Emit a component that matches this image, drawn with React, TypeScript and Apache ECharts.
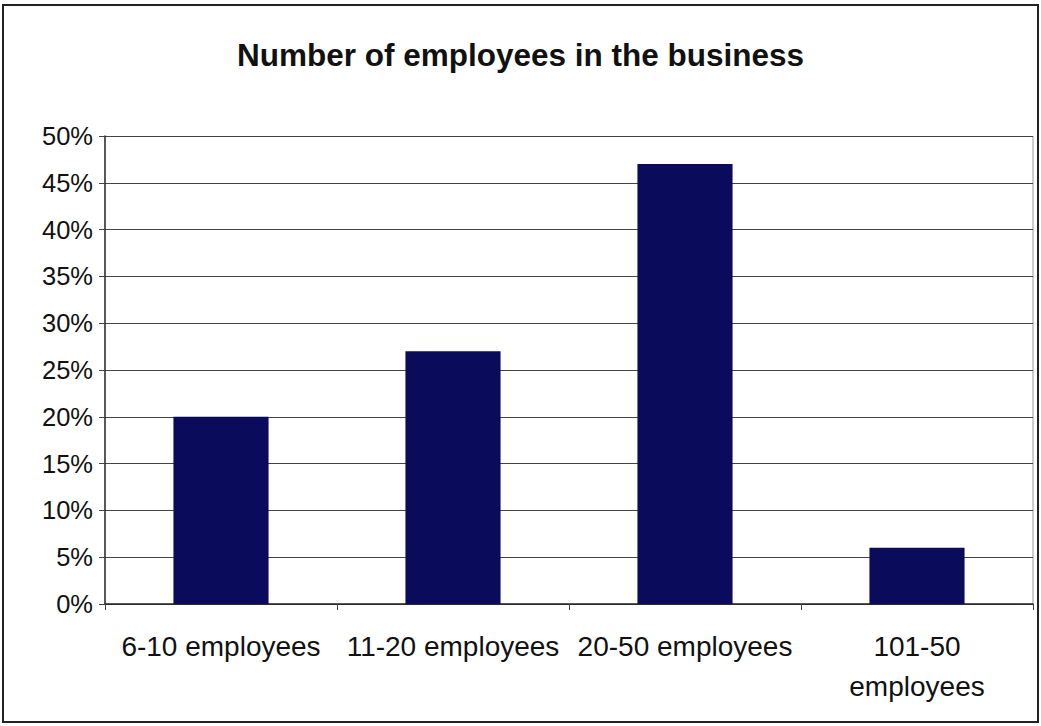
import React, { useEffect, useRef } from "react";
import * as echarts from "echarts";

const categories = ["6-10 employees", "11-20 employees", "20-50 employees", "101-50\nemployees"];
const values = [20, 27, 47, 6];
const yTicks = [0, 5, 10, 15, 20, 25, 30, 35, 40, 45, 50];
const title = "Number of employees in the business";

export default function App() {
  const ref = useRef<HTMLDivElement>(null);
  useEffect(() => {
    document.body.style.margin = "0";
    const chart = echarts.init(ref.current!, null, { renderer: "svg" });
    chart.setOption({
      animation: false,
      backgroundColor: "#ffffff",
      title: {
        text: title,
        left: "center",
        top: 34,
        textStyle: { fontFamily: "Liberation Sans", fontWeight: "bold", fontSize: 31.5, color: "#111" },
      },
      graphic: [
        {
          type: "rect",
          shape: { x: 3, y: 5, width: 1035, height: 717 },
          style: { fill: "none", stroke: "#222", lineWidth: 2 },
        },
        {
          type: "line",
          shape: { x1: 1033, y1: 136, x2: 1033, y2: 604 },
          style: { stroke: "#999", lineWidth: 1 },
        },
      ],
      grid: { left: 105, right: 8, top: 136, bottom: 122, containLabel: false },
      xAxis: {
        type: "category",
        data: categories,
        axisLine: { lineStyle: { color: "#222", width: 1.5 } },
        axisTick: { show: true, alignWithLabel: false, length: 6, lineStyle: { color: "#444" } },
        axisLabel: {
          interval: 0,
          margin: 22,
          fontFamily: "Liberation Sans",
          fontSize: 28,
          color: "#111",
          lineHeight: 40,
        },
      },
      yAxis: {
        type: "value",
        min: yTicks[0],
        max: yTicks[yTicks.length - 1],
        interval: 5,
        axisLine: { show: true, lineStyle: { color: "#222", width: 1.5 } },
        axisTick: { show: true, length: 6, lineStyle: { color: "#444" } },
        axisLabel: {
          formatter: (v: number) => `${v}%`,
          fontFamily: "Liberation Sans",
          fontSize: 25.5,
          color: "#111",
          margin: 12,
        },
        splitLine: { show: true, lineStyle: { color: "#444", width: 1 } },
      },
      series: [
        {
          type: "bar",
          data: values,
          barWidth: "41%",
          itemStyle: { color: "#0b0b5c" },
        },
      ],
    });
    return () => chart.dispose();
  }, []);
  return <div ref={ref} style={{ width: 1041, height: 726 }} />;
}
